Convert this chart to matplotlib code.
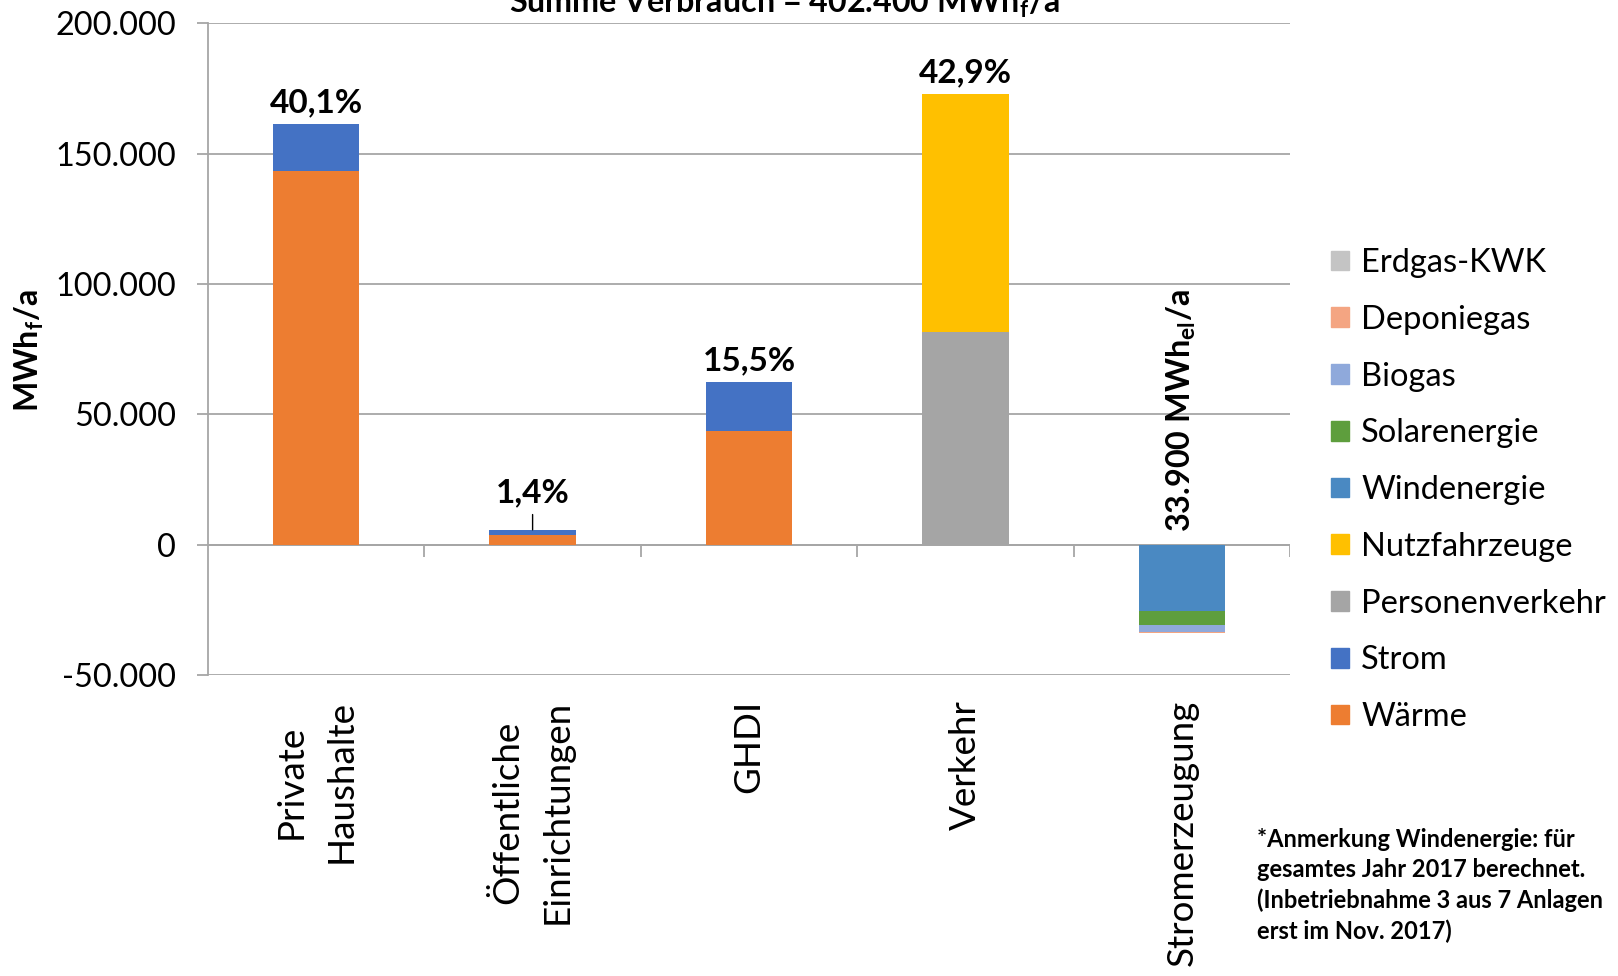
import matplotlib
matplotlib.use("Agg")
import matplotlib.pyplot as plt
from matplotlib.patches import Patch
import numpy as np

plt.rcParams["font.family"] = ["Lato", "DejaVu Sans"]
plt.rcParams["mathtext.default"] = "regular"

# ---------- data (MWh/a) ----------
categories = ["Private\nHaushalte", "Öffentliche\nEinrichtungen", "GHDI", "Verkehr", "Stromerzeugung"]
waerme = [143500, 3600, 43500, 0, 0]
strom = [17900, 2100, 19000, 0, 0]
personenverkehr = [0, 0, 0, 81500, 0]
nutzfahrzeuge = [0, 0, 0, 91300, 0]
windenergie = [0, 0, 0, 0, -25300]
solarenergie = [0, 0, 0, 0, -5400]
biogas = [0, 0, 0, 0, -2700]
deponiegas = [0, 0, 0, 0, -400]
erdgas_kwk = [0, 0, 0, 0, -100]

series = [
    ("Wärme", waerme, "#ED7D31"),
    ("Strom", strom, "#4472C4"),
    ("Personenverkehr", personenverkehr, "#A5A5A5"),
    ("Nutzfahrzeuge", nutzfahrzeuge, "#FFC000"),
    ("Windenergie", windenergie, "#4A89C2"),
    ("Solarenergie", solarenergie, "#5E9E3D"),
    ("Biogas", biogas, "#8FA9DB"),
    ("Deponiegas", deponiegas, "#F4A582"),
    ("Erdgas-KWK", erdgas_kwk, "#C4C4C4"),
]


def de_num(v):
    return f"{v:,.0f}".replace(",", ".")


x = np.arange(len(categories))
fig = plt.figure(figsize=(16.18, 9.76), dpi=100)
ax = fig.add_axes([208 / 1618, 1 - 675 / 976, 1082 / 1618, (675 - 23.4) / 976])

pos_bottom = np.zeros(len(categories))
neg_bottom = np.zeros(len(categories))
for name, vals, col in series:
    vals = np.array(vals, dtype=float)
    bottom = np.where(vals >= 0, pos_bottom, neg_bottom)
    ax.bar(x, vals, 0.4, bottom=bottom, color=col, zorder=3)
    pos_bottom += np.clip(vals, 0, None)
    neg_bottom += np.clip(vals, None, 0)

ax.set_xlim(-0.5, len(categories) - 0.5)
ax.set_ylim(-50000, 200000)
ax.set_yticks(np.arange(-50000, 200001, 50000))
ax.set_yticklabels([de_num(v) if v != 0 else "0" for v in ax.get_yticks()])
ax.yaxis.grid(True, color="#a6a6a6", lw=1.3, zorder=0)
for s in ["top", "right", "bottom"]:
    ax.spines[s].set_visible(False)
ax.spines["left"].set_color("#a6a6a6")
ax.spines["left"].set_linewidth(1.3)
ax.tick_params(axis="y", labelsize=23.4, length=8, width=1.3, color="#a6a6a6", pad=15)

ax.set_xticks(x)
ax.set_xticklabels(categories, rotation=90, ha="center", va="top",
                   multialignment="center", fontsize=26.5, linespacing=1.6)
ax.tick_params(axis="x", length=0, pad=18)

# category axis at zero with boundary ticks
ax.axhline(0, color="#a6a6a6", lw=1.3, zorder=2)
ax.vlines(x + 0.5, -4700, 0, color="#a6a6a6", lw=1.3, zorder=2)

# share of total consumption above each consumer bar
totals = pos_bottom
total_use = totals[:4].sum()
for i in range(4):
    label = f"{totals[i] / total_use * 100:.1f}".replace(".", ",") + "%"
    if totals[i] / total_use < 0.05:
        ax.annotate(label, (x[i], totals[i]), xytext=(0, 16), textcoords="offset points",
                    ha="center", va="bottom", fontsize=24, fontweight="bold",
                    arrowprops=dict(arrowstyle="-", color="black", lw=1,
                                    shrinkA=3, shrinkB=0))
    else:
        ax.annotate(label, (x[i], totals[i]), xytext=(0, 5), textcoords="offset points",
                    ha="center", va="bottom", fontsize=24, fontweight="bold")

# generated electricity
gen = -neg_bottom[4]
ax.annotate(f"{de_num(gen)} MWh$_{{el}}$/a", (x[4], 0), xytext=(0, 9),
            textcoords="offset points", rotation=90, ha="center", va="bottom",
            fontsize=23.3, fontweight="bold")

fig.text(784 / 1618, 1 - 13 / 976, f"Summe Verbrauch = {de_num(total_use)} MWh$_f$/a",
         ha="center", va="baseline", fontsize=23.2, fontweight="bold")
fig.text(29 / 1618, 1 - 351 / 976, "MWh$_f$/a", rotation=90, ha="center", va="center",
         fontsize=23, fontweight="bold")

handles = [Patch(color=col, label=name) for name, _, col in series][::-1]
fig.legend(handles=handles, loc="upper left", bbox_to_anchor=(1331 / 1618, 1 - 248 / 976),
           frameon=False, fontsize=23.5, handlelength=0.55, handleheight=0.55,
           handletextpad=0.38, labelspacing=0.82, borderpad=0, borderaxespad=0)

fig.text(1257 / 1618, 1 - 828 / 976,
         "*Anmerkung Windenergie: für\ngesamtes Jahr 2017 berechnet.\n"
         "(Inbetriebnahme 3 aus 7 Anlagen\nerst im Nov. 2017)",
         ha="left", va="top", fontsize=17, fontweight="bold", linespacing=1.38)

fig.savefig("out.png", dpi=100)
